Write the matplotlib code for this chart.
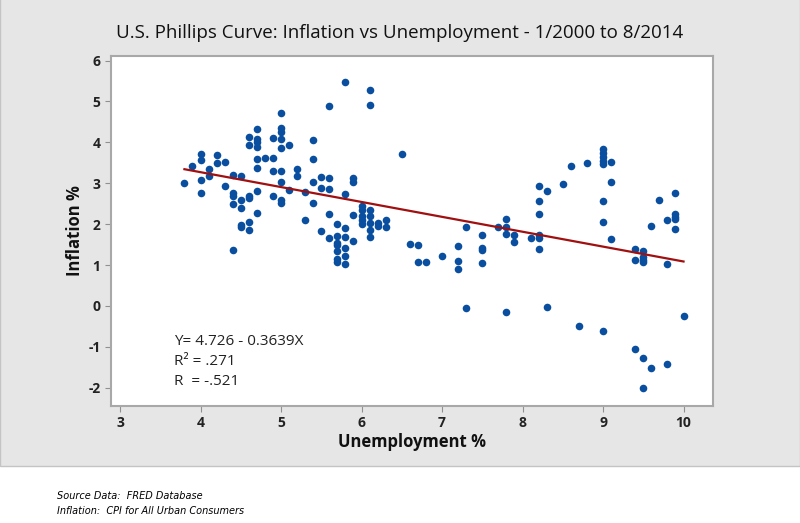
import numpy as np
import matplotlib.pyplot as plt
from matplotlib.patches import Rectangle

# unemployment % (x) and inflation % (y)
unemp = [3.8, 3.9,
         4.0, 4.0, 4.0, 4.0, 4.1, 4.1, 4.2, 4.2, 4.3, 4.3,
         4.4, 4.4, 4.4, 4.4, 4.4, 4.5, 4.5, 4.5, 4.5, 4.5,
         4.6, 4.6, 4.6, 4.6, 4.6, 4.6,
         4.7, 4.7, 4.7, 4.7, 4.7, 4.7, 4.7, 4.7, 4.8,
         4.9, 4.9, 4.9, 4.9,
         5.0, 5.0, 5.0, 5.0, 5.0, 5.0, 5.0, 5.0, 5.0,
         5.1, 5.1, 5.2, 5.2, 5.3, 5.3,
         5.4, 5.4, 5.4, 5.4, 5.5, 5.5, 5.5,
         5.6, 5.6, 5.6, 5.6, 5.6,
         5.7, 5.7, 5.7, 5.7, 5.7, 5.7, 5.7,
         5.8, 5.8, 5.8, 5.8, 5.8, 5.8, 5.8,
         5.9, 5.9, 5.9, 5.9,
         6.0, 6.0, 6.0, 6.0, 6.0,
         6.1, 6.1, 6.1, 6.1, 6.1, 6.1, 6.1,
         6.2, 6.2, 6.3, 6.3, 6.5, 6.6, 6.7, 6.7, 6.8, 7.0,
         7.2, 7.2, 7.2, 7.3, 7.3, 7.5, 7.5, 7.5, 7.5, 7.7,
         7.8, 7.8, 7.8, 7.8, 7.9, 7.9, 8.1,
         8.2, 8.2, 8.2, 8.2, 8.2, 8.2, 8.3, 8.3,
         8.5, 8.6, 8.7, 8.8,
         9.0, 9.0, 9.0, 9.0, 9.0, 9.0, 9.0, 9.0,
         9.1, 9.1, 9.1, 9.4, 9.4, 9.4,
         9.5, 9.5, 9.5, 9.5, 9.5, 9.5, 9.6, 9.6, 9.7,
         9.8, 9.8, 9.8, 9.9, 9.9, 9.9, 9.9, 9.9, 10.0]
inflation = [3.0, 3.42,
             3.72, 3.56, 3.09, 2.75, 3.34, 3.18, 3.68, 3.49, 3.51, 2.94,
             3.19, 2.75, 2.68, 2.49, 1.38, 3.17, 2.58, 2.4, 1.98, 1.92,
             4.14, 3.94, 2.7, 2.65, 2.05, 1.86,
             4.33, 4.08, 4.0, 3.89, 3.59, 3.37, 2.8, 2.27, 3.61,
             4.11, 3.61, 3.3, 2.68,
             4.71, 4.34, 4.26, 4.08, 3.86, 3.3, 3.04, 2.58, 2.52,
             3.94, 2.83, 3.34, 3.17, 2.79, 2.09,
             4.06, 3.59, 3.02, 2.51, 3.15, 2.89, 1.83,
             4.9, 3.13, 2.87, 2.25, 1.65,
             2.01, 1.7, 1.55, 1.5, 1.35, 1.16, 1.08,
             5.47, 2.73, 1.9, 1.69, 1.41, 1.21, 1.03,
             3.12, 3.02, 2.22, 1.6,
             2.45, 2.35, 2.2, 2.1, 2.0,
             5.28, 4.92, 2.35, 2.2, 2.04, 1.85, 1.68,
             2.02, 1.96, 2.1, 1.92, 3.71, 1.52, 1.48, 1.07, 1.07, 1.21,
             1.47, 1.11, 0.9, 1.92, -0.05, 1.73, 1.41, 1.36, 1.06, 1.92,
             2.12, 1.92, 1.75, -0.15, 1.74, 1.56, 1.65,
             2.94, 2.56, 2.25, 1.73, 1.66, 1.39, 2.82, -0.03,
             2.99, 3.42, -0.49, 3.49,
             3.83, 3.73, 3.65, 3.55, 3.46, 2.56, 2.06, -0.61,
             3.52, 3.04, 1.63, 1.39, 1.13, -1.06,
             1.34, 1.2, 1.13, 1.07, -1.28, -2.0, 1.96, -1.52, 2.59,
             2.1, 1.03, -1.42, 2.77, 2.25, 2.17, 2.12, 1.87, -0.25]

# regression reported on the chart
intercept = 4.726
slope = -0.3639
fit_text = ["Y= 4.726 - 0.3639X", "R\u00b2 = .271", "R  = -.521"]

x_ticks = [3, 4, 5, 6, 7, 8, 9, 10]
y_ticks = [-2, -1, 0, 1, 2, 3, 4, 5, 6]

plt.rcParams['font.family'] = ['Open Sans', 'DejaVu Sans']
plt.rcParams['axes.unicode_minus'] = False

fig = plt.figure(figsize=(8, 5.23), dpi=100, facecolor='white')
# grey panel behind the chart
fig.patches.append(Rectangle((0, 57 / 523), 1, 1, transform=fig.transFigure,
                             facecolor='#e6e6e6', edgecolor='#c4c4c4', lw=1, zorder=-10))

ax = fig.add_axes([111 / 800, 1 - 406 / 523, 602 / 800, 350 / 523])
ax.set_facecolor('white')

ax.scatter(unemp, inflation, s=30, color='#0a4ea0', zorder=3, linewidths=0)

xf = np.array([min(unemp), max(unemp)])
ax.plot(xf, intercept + slope * xf, color='#a01010', lw=1.6, zorder=4)

for i, t in enumerate(fit_text):
    ax.text(3.67, -0.88 - i * 0.48, t, fontsize=11, color='#222222', va='center')

ax.set_xlim(2.888, 10.366)
ax.set_ylim(-2.445, 6.11)
ax.set_xticks(x_ticks)
ax.set_yticks(y_ticks)
ax.tick_params(direction='out', length=4, color='#909090', labelsize=10,
               labelcolor='#222222')
for lab in ax.get_xticklabels() + ax.get_yticklabels():
    lab.set_fontweight('bold')
for s in ax.spines.values():
    s.set_color('#a8a8a8')
    s.set_linewidth(1.5)

ax.set_xlabel('Unemployment %', fontsize=12, fontweight='bold', color='#111111', labelpad=2)
ax.set_ylabel('Inflation %', fontsize=12, fontweight='bold', color='#111111', labelpad=3)

fig.text(0.5, 1 - 33 / 523, 'U.S. Phillips Curve: Inflation vs Unemployment - 1/2000 to 8/2014',
         ha='center', va='center', fontsize=13.5, color='#111111', fontweight='medium')

fig.text(57 / 800, 1 - 496 / 523, 'Source Data:  FRED Database', fontsize=7,
         style='italic', va='center', family=['Liberation Sans Narrow', 'DejaVu Sans'])
fig.text(57 / 800, 1 - 511 / 523, 'Inflation:  CPI for All Urban Consumers', fontsize=7,
         style='italic', va='center', family=['Liberation Sans Narrow', 'DejaVu Sans'])

fig.savefig('out.png', dpi=100, facecolor=fig.get_facecolor())
